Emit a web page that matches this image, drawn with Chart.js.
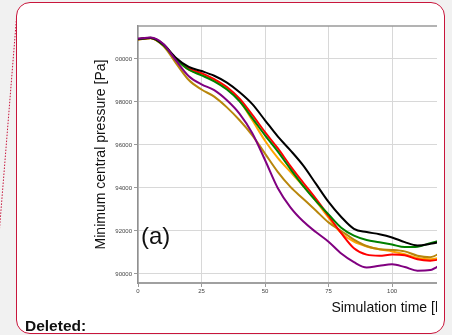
<!DOCTYPE html>
<html>
<head>
<meta charset="utf-8">
<script src="https://cdn.jsdelivr.net/npm/chart.js@4.4.1/dist/chart.umd.min.js"></script>
<style>
  html, body { margin: 0; padding: 0; }
  body { width: 452px; height: 335px; overflow: hidden; background: #f1f1f1; position: relative; font-family: "Liberation Sans", Arial, sans-serif; }
  #caja { position: absolute; left: 16px; top: 2px; width: 429px; height: 332px; box-sizing: border-box;
          border: 1.5px solid #c8163c; border-radius: 14px; background: #fff; }
  #recorte { position: absolute; left: 0; top: 0; width: 437px; height: 320px; overflow: hidden; }
  #lienzo { position: absolute; left: 0; top: 0; width: 650px; height: 320px; }
  #panel { position: absolute; left: 141px; top: 224px; font-size: 24px; line-height: 24px; color: #111; }
  #borrado { position: absolute; left: 25px; top: 317px; font-size: 15.5px; line-height: 18px; font-weight: bold; color: #111; }
  #conector { position: absolute; left: 0; top: 0; }
</style>
</head>
<body>
<div id="caja"></div>
<svg id="conector" width="30" height="335"><line x1="16.5" y1="18" x2="-1" y2="235" stroke="#c8163c" stroke-width="1" stroke-dasharray="1.5,1.5"/></svg>
<div id="recorte">
  <div id="lienzo"><canvas id="grafico"></canvas></div>
  <div id="panel">(a)</div>
</div>
<div id="borrado">Deleted:</div>
<script>
// tiempo de simulación (eje x)
const tiempo = [0, 5, 10, 15, 20, 25, 30, 35, 40, 45, 50, 55, 60, 65, 70, 75, 80, 85, 90, 95, 100, 105, 110, 115, 120];

// presión central mínima [Pa] por corrida
const corridaNegra   = [100930, 100990, 100680, 100050, 99630, 99440, 99220, 98900, 98450, 97900, 97150, 96400, 95750, 95050, 94200, 93350, 92650, 92100, 91950, 91850, 91700, 91480, 91330, 91400, 91520];
const corridaVerde   = [100920, 100980, 100640, 99990, 99500, 99240, 98960, 98580, 98030, 97250, 96450, 95700, 94880, 94100, 93400, 92770, 92150, 91780, 91580, 91480, 91370, 91250, 91270, 91430, 91580];
const corridaRoja    = [100920, 100980, 100650, 100010, 99560, 99340, 99060, 98700, 98150, 97400, 96600, 95850, 95020, 94250, 93500, 92700, 91900, 91200, 90900, 90850, 90900, 90870, 90680, 90620, 90700];
const corridaNaranja = [100920, 100980, 100650, 99990, 99510, 99290, 99000, 98620, 98050, 97150, 96200, 95400, 94750, 94100, 93400, 92620, 91900, 91500, 91280, 91150, 91050, 90920, 90740, 90680, 90780];
const corridaOcre    = [100900, 100970, 100600, 99800, 99020, 98580, 98250, 97750, 97150, 96450, 95600, 94750, 94050, 93500, 92950, 92400, 92000, 91600, 91300, 91150, 91120, 91050, 90850, 90780, 91050];
const corridaMorada  = [100950, 101000, 100700, 99920, 99200, 98820, 98550, 98080, 97450, 96550, 95300, 94000, 93100, 92450, 91950, 91500, 90950, 90550, 90300, 90380, 90450, 90320, 90150, 90180, 90500];

const ticksY = [90000, 92000, 94000, 96000, 98000, 100000];
const ticksX = [0, 25, 50, 75, 100, 125, 150, 175];

function serie(valores, color) {
  return {
    data: tiempo.map((t, i) => ({ x: t, y: valores[i] })),
    borderColor: color,
    borderWidth: 2,
    pointRadius: 0,
    fill: false,
    cubicInterpolationMode: "monotone"
  };
}

// borde superior del área del gráfico
const bordeSuperior = {
  id: "bordeSuperior",
  afterDraw(chart) {
    const { ctx, chartArea } = chart;
    ctx.save();
    ctx.strokeStyle = "#9a9a9a";
    ctx.lineWidth = 1.5;
    ctx.beginPath();
    ctx.moveTo(chartArea.left, chartArea.top);
    ctx.lineTo(chartArea.right, chartArea.top);
    ctx.stroke();
    ctx.restore();
  }
};

const fuenteTick = { family: "Liberation Sans", size: 6 };
const fuenteTitulo = { family: "Liberation Sans", size: 14 };

new Chart(document.getElementById("grafico"), {
  type: "line",
  data: {
    datasets: [
      serie(corridaMorada, "#800080"),
      serie(corridaNegra, "#000000"),
      serie(corridaVerde, "#008000"),
      serie(corridaRoja, "#ff0000"),
      serie(corridaOcre, "#b8860b"),
      serie(corridaNaranja, "#ffa500")
    ]
  },
  options: {
    responsive: true,
    maintainAspectRatio: false,
    animation: false,
    layout: { padding: { left: 0, top: 26, right: 10, bottom: 0 } },
    plugins: { legend: { display: false }, tooltip: { enabled: false } },
    scales: {
      x: {
        type: "linear",
        min: 0,
        max: 197.6,
        afterFit(escala) { escala.height = 37; },
        afterBuildTicks(escala) { escala.ticks = ticksX.map(v => ({ value: v })); },
        ticks: { font: fuenteTick, color: "#444", padding: 1, maxRotation: 0, includeBounds: false },
        grid: { color: "#d8d8d8", lineWidth: 1, tickLength: 4, tickColor: "#999" },
        border: { color: "#a0a0a0", width: 2 },
        title: { display: true, text: "Simulation time [h]", font: fuenteTitulo, color: "#111", padding: { top: 0, bottom: 3.6 } }
      },
      y: {
        type: "linear",
        min: 89580,
        max: 101535,
        afterFit(escala) { escala.width = 138; },
        afterBuildTicks(escala) { escala.ticks = ticksY.map(v => ({ value: v })); },
        ticks: {
          font: fuenteTick, color: "#444", padding: 2, includeBounds: false,
          callback: v => v >= 100000 ? String(v).slice(1) : String(v)
        },
        grid: { color: "#d8d8d8", lineWidth: 1, tickLength: 4, tickColor: "#999" },
        border: { color: "#909090", width: 1.5 },
        title: { display: true, text: "Minimum central pressure [Pa]", font: fuenteTitulo, color: "#111", padding: { top: 93, bottom: 0 } }
      }
    }
  },
  plugins: [bordeSuperior]
});
</script>
</body>
</html>
